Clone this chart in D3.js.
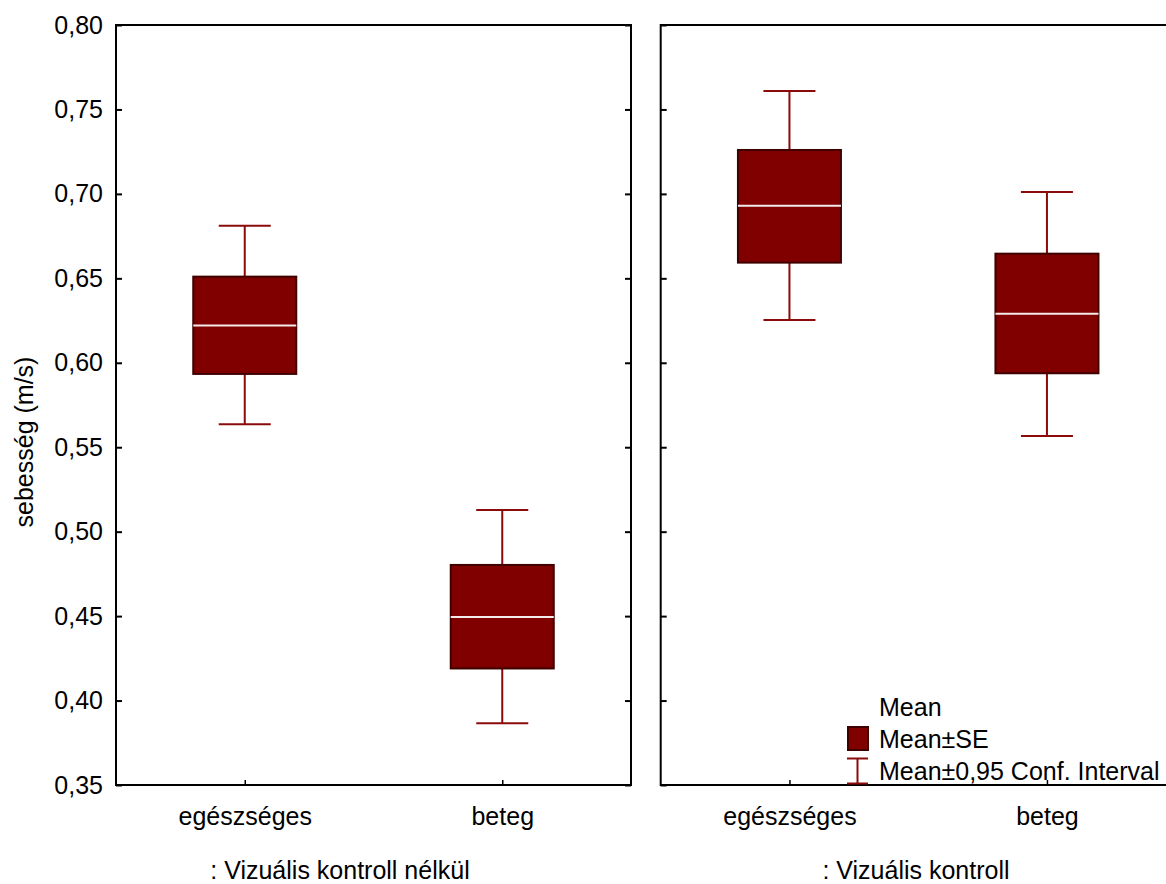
<!DOCTYPE html>
<html>
<head>
<meta charset="utf-8">
<script src="https://cdn.jsdelivr.net/npm/d3@7"></script>
<style>
  html, body { margin: 0; padding: 0; background: #fff; }
  svg { display: block; }
  text { font-family: "Liberation Sans", Arial, sans-serif; fill: #000; }
</style>
</head>
<body>
<svg id="chart" width="1166" height="884"></svg>
<script>
const categories = ["egészséges", "beteg"];
const panelTitles = [": Vizuális kontroll nélkül", ": Vizuális kontroll"];
const means  = [[0.622, 0.4495], [0.693, 0.629]];
const seLow  = [[0.5934, 0.419], [0.6593, 0.5938]];
const seHigh = [[0.651, 0.4803], [0.726, 0.6646]];
const ciLow  = [[0.5636, 0.3865], [0.6253, 0.5566]];
const ciHigh = [[0.6812, 0.5128], [0.7609, 0.7011]];
const yTicks = [0.35, 0.40, 0.45, 0.50, 0.55, 0.60, 0.65, 0.70, 0.75, 0.80];
const yLabel = "sebesség (m/s)";
const legendLabels = ["Mean", "Mean±SE", "Mean±0,95 Conf. Interval"];

(function () {
const svg = d3.select("#chart");
const FS = 25;
const plotTop = 25, plotBottom = 785;
const panelW = 515;
const panelLefts = [116, 660.7];
const boxW = 103, capW = 52;
const fill = "#800000", boxStroke = "#3f0000", whisk = "#8b0a0a";

const y = d3.scaleLinear().domain([0.35, 0.80]).range([plotBottom, plotTop]);
const fmt = v => d3.format(".2f")(v).replace(".", ",");

panelLefts.forEach((left, p) => {
  const x = d3.scalePoint().domain(categories).range([left, left + panelW]).padding(0.5);
  const g = svg.append("g");

  const yAxisL = d3.axisLeft(y).tickValues(yTicks).tickSize(-6).tickPadding(13)
    .tickFormat(p === 0 ? fmt : () => "");
  const ga = g.append("g").attr("transform", `translate(${left},0)`).call(yAxisL);
  ga.select(".domain").remove();
  ga.selectAll("line").attr("stroke", "#000").attr("stroke-width", 2);
  ga.selectAll("text").style("font-size", FS + "px").attr("fill", "#000");

  const yAxisR = d3.axisRight(y).tickValues(yTicks).tickSize(-6).tickFormat(() => "");
  const gr = g.append("g").attr("transform", `translate(${left + panelW},0)`).call(yAxisR);
  gr.select(".domain").remove();
  gr.selectAll("line").attr("stroke", "#000").attr("stroke-width", 2);

  const xAxis = d3.axisBottom(x).tickSize(-5).tickPadding(22);
  const gx = g.append("g").attr("transform", `translate(0,${plotBottom})`).call(xAxis);
  gx.select(".domain").remove();
  gx.selectAll("line").attr("stroke", "#000").attr("stroke-width", 1.5);
  gx.selectAll("text").style("font-size", FS + "px").attr("fill", "#000");

  g.append("rect").attr("x", left).attr("y", plotTop).attr("width", panelW).attr("height", plotBottom - plotTop)
    .attr("fill", "none").attr("stroke", "#000").attr("stroke-width", 2);

  categories.forEach((c, i) => {
    const cx = x(c);
    g.append("line").attr("x1", cx).attr("x2", cx).attr("y1", y(ciHigh[p][i])).attr("y2", y(seHigh[p][i]))
      .attr("stroke", whisk).attr("stroke-width", 2);
    g.append("line").attr("x1", cx).attr("x2", cx).attr("y1", y(seLow[p][i])).attr("y2", y(ciLow[p][i]))
      .attr("stroke", whisk).attr("stroke-width", 2);
    [ciHigh[p][i], ciLow[p][i]].forEach(v => {
      g.append("line").attr("x1", cx - capW / 2).attr("x2", cx + capW / 2).attr("y1", y(v)).attr("y2", y(v))
        .attr("stroke", whisk).attr("stroke-width", 2);
    });
    g.append("rect").attr("x", cx - boxW / 2).attr("y", y(seHigh[p][i]))
      .attr("width", boxW).attr("height", y(seLow[p][i]) - y(seHigh[p][i]))
      .attr("fill", fill).attr("stroke", boxStroke).attr("stroke-width", 2);
    g.append("line").attr("x1", cx - boxW / 2).attr("x2", cx + boxW / 2)
      .attr("y1", y(means[p][i])).attr("y2", y(means[p][i]))
      .attr("stroke", "#f4eaea").attr("stroke-width", 2);
  });
});

const titleX = [340, 916];
panelTitles.forEach((t, p) => {
  svg.append("text").attr("x", titleX[p]).attr("y", 879).attr("text-anchor", "middle")
    .style("font-size", FS + "px").text(t);
});

svg.append("text").attr("transform", "translate(33,442) rotate(-90)").attr("text-anchor", "middle")
  .style("font-size", FS + "px").text(yLabel);

const lg = svg.append("g");
lg.append("text").attr("x", 879).attr("y", 716).style("font-size", FS + "px").text(legendLabels[0]);
lg.append("rect").attr("x", 848).attr("y", 727).attr("width", 20).attr("height", 23)
  .attr("fill", fill).attr("stroke", boxStroke).attr("stroke-width", 2);
lg.append("text").attr("x", 879).attr("y", 748).style("font-size", FS + "px").text(legendLabels[1]);
lg.append("line").attr("x1", 857.5).attr("x2", 857.5).attr("y1", 758.5).attr("y2", 783.5)
  .attr("stroke", whisk).attr("stroke-width", 2);
[758.5, 783.5].forEach(v => lg.append("line").attr("x1", 847).attr("x2", 868).attr("y1", v).attr("y2", v)
  .attr("stroke", whisk).attr("stroke-width", 2));
lg.append("text").attr("x", 879).attr("y", 780).style("font-size", FS + "px").text(legendLabels[2]);
})();
</script>
</body>
</html>
